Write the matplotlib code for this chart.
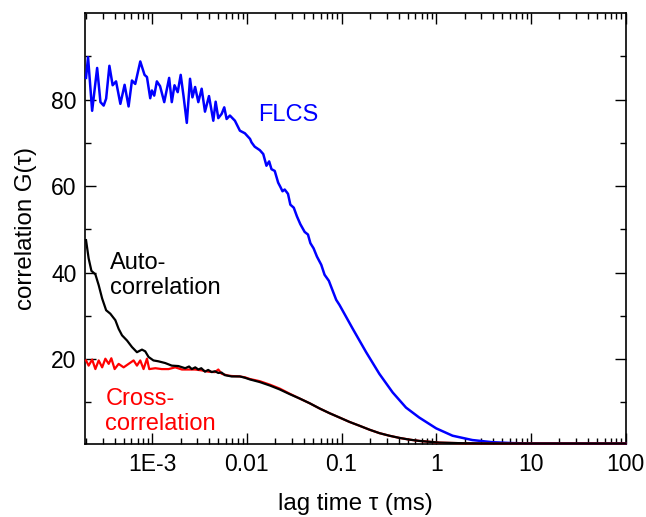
import matplotlib
matplotlib.use("Agg")
import matplotlib.pyplot as plt
from matplotlib.ticker import FixedLocator, FixedFormatter, LogLocator, NullFormatter

plt.rcParams['font.family'] = ['Liberation Sans', 'DejaVu Sans']

# ---- data ----
flcs_tau = [2.0e-4, 2.10e-4, 2.32e-4, 2.62e-4, 2.84e-4, 3.07e-4, 3.26e-4, 3.53e-4, 3.82e-4,
            4.15e-4, 4.61e-4, 5.11e-4, 5.63e-4, 6.11e-4, 6.62e-4, 7.48e-4, 8.30e-4, 8.80e-4,
            9.53e-4, 9.93e-4, 1.05e-3, 1.12e-3, 1.21e-3, 1.34e-3, 1.51e-3, 1.61e-3, 1.72e-3,
            1.86e-3, 2.00e-3, 2.14e-3, 2.32e-3, 2.51e-3, 2.66e-3, 2.84e-3, 3.07e-3, 3.33e-3,
            3.61e-3, 3.98e-3, 4.42e-3, 4.68e-3, 4.99e-3, 5.42e-3, 5.77e-3, 6.11e-3, 6.62e-3,
            7.48e-3, 8.44e-3, 9.53e-3, 1.08e-2, 1.12e-2, 1.21e-2, 1.37e-2, 1.49e-2, 1.61e-2,
            1.72e-2, 1.82e-2, 1.97e-2, 2.14e-2, 2.26e-2, 2.38e-2, 2.51e-2, 2.72e-2, 2.88e-2,
            3.13e-2, 3.38e-2, 3.67e-2, 4.08e-2, 4.42e-2, 4.69e-2, 5.07e-2, 5.50e-2, 6.11e-2,
            6.62e-2, 7.35e-2, 8.10e-2, 8.79e-2, 9.53e-2, 0.1315, 0.182, 0.251, 0.347, 0.480,
            0.662, 1.0, 1.49, 2.41, 3.92, 6.31, 9.76, 20.0, 50.0, 100.0]
flcs_g = [85.0, 89.8, 77.4, 87.3, 79.4, 78.6, 80.2, 87.8, 83.3,
          84.2, 79.0, 83.4, 78.4, 84.4, 83.6, 88.8, 85.7, 85.2,
          80.3, 82.1, 80.9, 84.2, 83.1, 79.4, 85.0, 79.4, 83.3,
          81.7, 85.7, 80.9, 74.6, 84.8, 80.5, 82.9, 79.4, 82.5,
          77.2, 80.8, 75.1, 79.5, 75.7, 76.7, 78.2, 75.5, 76.3,
          75.1, 72.8, 72.2, 70.9, 70.1, 69.1, 68.3, 67.4, 64.7,
          65.7, 63.9, 63.5, 60.8, 59.8, 58.8, 59.2, 58.2, 55.7,
          55.0, 53.0, 51.2, 49.4, 48.8, 46.8, 45.6, 43.7, 41.8,
          39.5, 38.1, 35.7, 33.7, 32.5, 27.0, 21.6, 16.6, 12.3, 8.8,
          6.5, 4.0, 2.3, 1.3, 0.8, 0.6, 0.5, 0.5, 0.5, 0.5]

auto_tau = [2.0e-4, 2.13e-4, 2.28e-4, 2.51e-4, 2.72e-4, 2.96e-4, 3.26e-4, 3.61e-4, 4.08e-4,
            4.42e-4, 4.80e-4, 5.42e-4, 6.11e-4, 6.90e-4, 7.80e-4, 8.44e-4, 9.15e-4, 1.03e-3,
            1.16e-3, 1.37e-3, 1.61e-3, 1.89e-3, 2.23e-3, 2.45e-3, 2.62e-3, 2.85e-3, 3.07e-3,
            3.30e-3, 3.61e-3, 3.90e-3, 4.25e-3, 4.60e-3, 4.99e-3, 5.40e-3, 5.86e-3, 6.90e-3,
            8.44e-3, 9.53e-3, 1.08e-2, 1.37e-2, 1.75e-2, 2.22e-2, 2.84e-2, 3.61e-2, 4.61e-2,
            5.86e-2, 7.48e-2, 9.53e-2, 0.121, 0.155, 0.197, 0.251, 0.320, 0.408, 0.520, 0.662,
            0.844, 1.08, 2.0, 4.0, 10.0, 100.0]
auto_g = [47.5, 43.3, 40.4, 39.6, 37.1, 34.0, 31.3, 30.5, 29.0,
          27.0, 25.5, 24.3, 22.8, 21.6, 22.2, 21.8, 20.5, 19.7,
          19.5, 19.1, 18.5, 18.4, 17.9, 18.3, 17.7, 18.1, 17.6,
          17.9, 17.1, 17.5, 17.0, 17.2, 16.8, 16.9, 16.3, 16.0,
          16.0, 15.7, 15.3, 14.7, 13.9, 13.0, 11.9, 10.9, 9.8,
          8.6, 7.5, 6.5, 5.5, 4.6, 3.7, 2.9, 2.3, 1.8, 1.4, 1.1,
          0.9, 0.7, 0.55, 0.5, 0.5, 0.5]

cross_tau = [2.0e-4, 2.13e-4, 2.32e-4, 2.51e-4, 2.72e-4, 2.96e-4, 3.20e-4, 3.47e-4, 3.70e-4,
             4.01e-4, 4.42e-4, 4.99e-4, 5.63e-4, 6.36e-4, 6.90e-4, 7.48e-4, 8.10e-4, 8.80e-4,
             9.30e-4, 1.08e-3, 1.26e-3, 1.49e-3, 1.75e-3, 2.06e-3, 2.41e-3, 2.84e-3, 3.33e-3,
             3.92e-3, 4.61e-3, 4.99e-3, 5.42e-3, 6.36e-3, 6.90e-3, 8.44e-3, 9.53e-3, 1.08e-2,
             1.37e-2, 1.75e-2, 2.22e-2, 2.84e-2, 3.61e-2, 4.61e-2, 5.86e-2, 7.48e-2, 9.53e-2,
             0.121, 0.155, 0.197, 0.251, 0.320, 0.408, 0.520, 0.662, 0.844, 1.08, 2.0, 4.0,
             10.0, 100.0]
cross_g = [19.7, 18.5, 19.9, 17.7, 19.7, 18.1, 20.1, 18.9, 20.2,
           17.7, 18.9, 18.1, 18.9, 19.7, 18.5, 19.7, 17.7, 20.1,
           17.7, 17.9, 17.7, 17.7, 18.1, 17.6, 17.6, 17.6, 17.4,
           17.1, 17.0, 17.6, 16.6, 16.2, 16.1, 16.0, 15.8, 15.4,
           14.9, 14.1, 13.2, 12.0, 10.9, 9.8, 8.6, 7.5, 6.5,
           5.5, 4.6, 3.7, 2.9, 2.3, 1.8, 1.4, 1.1, 0.9, 0.7, 0.55, 0.5,
           0.5, 0.5]

x_ticks = [1e-3, 1e-2, 1e-1, 1, 10, 100]
x_tick_labels = ["1E-3", "0.01", "0.1", "1", "10", "100"]
y_ticks = [20, 40, 60, 80]
y_minor = [10, 30, 50, 70, 90]

# ---- figure ----
fig = plt.figure(figsize=(6.46, 5.17), dpi=100)
ax = fig.add_axes([85 / 646, 1 - 443.5 / 517, (625.5 - 85) / 646, (443.5 - 13) / 517])

ax.plot(flcs_tau, flcs_g, color='#0000ff', lw=1.8, clip_on=False, zorder=3)
ax.plot(cross_tau, cross_g, color='#ff0000', lw=1.6, clip_on=False, zorder=3)
ax.plot(auto_tau, auto_g, color='black', lw=1.6, clip_on=False, zorder=3)

ax.set_xscale('log')
ax.set_xlim(1.95e-4, 100)
ax.set_ylim(0.5, 100)

ax.xaxis.set_major_locator(FixedLocator(x_ticks))
ax.xaxis.set_major_formatter(FixedFormatter(x_tick_labels))
ax.xaxis.set_minor_locator(LogLocator(base=10, subs=[2, 3, 4, 5, 6, 7, 8, 9], numticks=20))
ax.xaxis.set_minor_formatter(NullFormatter())
ax.yaxis.set_major_locator(FixedLocator(y_ticks))
ax.yaxis.set_minor_locator(FixedLocator(y_minor))

ax.tick_params(which='both', direction='in', top=True, right=True, labelsize=16.5, width=1.0)
ax.tick_params(which='major', length=8)
ax.tick_params(which='minor', length=4.5)
ax.tick_params(axis='x', pad=7)
ax.tick_params(axis='y', pad=6)
for s in ax.spines.values():
    s.set_linewidth(1.2)

ax.set_xlabel('lag time τ (ms)', fontsize=17.3, labelpad=12)
ax.set_ylabel('correlation G(τ)', fontsize=17.3, labelpad=10)

ax.text(0.0131, 75, 'FLCS', fontsize=17, color='#0000ff', va='baseline')
ax.text(3.61e-4, 35, 'Auto-\ncorrelation', fontsize=17, color='black', linespacing=1.2)
ax.text(3.2e-4, 3.6, 'Cross-\ncorrelation', fontsize=17, color='#ff0000', linespacing=1.2)

fig.savefig('out.png', dpi=100)
